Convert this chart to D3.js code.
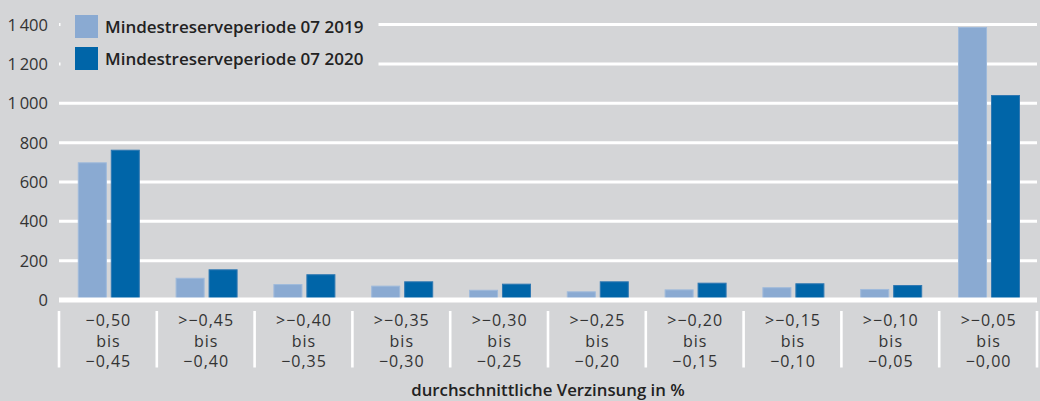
<!DOCTYPE html>
<html>
<head>
<meta charset="utf-8">
<script src="https://cdn.jsdelivr.net/npm/d3@7"></script>
<style>
  html, body { margin: 0; padding: 0; background: #d4d5d7; }
  svg { display: block; }
  text { font-family: "Open Sans", "Noto Sans", sans-serif; }
</style>
</head>
<body>
<svg id="chart" width="1040" height="401"></svg>
<script>
const categories = [
  ["\u22120,50", "bis", "\u22120,45"],
  [">\u22120,45", "bis", "\u22120,40"],
  [">\u22120,40", "bis", "\u22120,35"],
  [">\u22120,35", "bis", "\u22120,30"],
  [">\u22120,30", "bis", "\u22120,25"],
  [">\u22120,25", "bis", "\u22120,20"],
  [">\u22120,20", "bis", "\u22120,15"],
  [">\u22120,15", "bis", "\u22120,10"],
  [">\u22120,10", "bis", "\u22120,05"],
  [">\u22120,05", "bis", "\u22120,00"]
];
const seriesNames = ["Mindestreserveperiode 07 2019", "Mindestreserveperiode 07 2020"];
const values2019 = [700, 113, 81, 73, 52, 44, 54, 65, 56, 1388];
const values2020 = [764, 156, 131, 95, 83, 95, 88, 85, 76, 1042];
const yTicks = [0, 200, 400, 600, 800, 1000, 1200, 1400];
const yTickLabels = ["0", "200", "400", "600", "800", "1\u2009000", "1\u2009200", "1\u2009400"];
const axisTitle = "durchschnittliche Verzinsung in %";
const colors = ["#8aaad2", "#0065a8"];
const strokes = ["#9fbadb", "#2f78b2"];

const svg = d3.select("#chart");
const bg = "#d4d5d7";
svg.append("rect").attr("width", 1040).attr("height", 401).attr("fill", bg);

const x0 = d3.scaleBand().domain(d3.range(categories.length)).range([59, 1037]).padding(0);
const x1 = d3.scaleBand().domain([0, 1]).range([18.8, 80.8]).paddingInner(0.12);
const y = d3.scaleLinear().domain([0, 1400]).range([300, 24.6]);

// gridlines
svg.append("g").selectAll("line").data(yTicks.filter(d => d > 0)).join("line")
  .attr("x1", 59).attr("x2", 1037)
  .attr("y1", d => y(d)).attr("y2", d => y(d))
  .attr("stroke", "#fff").attr("stroke-width", 3);

// y tick labels
svg.append("g").selectAll("text").data(yTicks).join("text")
  .attr("x", 48).attr("y", d => y(d)).attr("dy", "0.36em")
  .attr("text-anchor", "end").attr("font-size", 16.5).attr("fill", "#333")
  .text((d, i) => yTickLabels[i]);

// bars
const series = [values2019, values2020];
series.forEach((vals, s) => {
  svg.append("g").selectAll("rect").data(vals).join("rect")
    .attr("x", (d, i) => x0(i) + x1(s) + 0.5)
    .attr("width", x1.bandwidth() - 1)
    .attr("y", d => y(d) + 0.5)
    .attr("height", d => y(0) - y(d))
    .attr("fill", colors[s])
    .attr("stroke", strokes[s]).attr("stroke-width", 1);
});

// zero line
svg.append("line").attr("x1", 59).attr("x2", 1037)
  .attr("y1", y(0)).attr("y2", y(0))
  .attr("stroke", "#fff").attr("stroke-width", 5);

// category separators
svg.append("g").selectAll("line").data(d3.range(categories.length + 1)).join("line")
  .attr("x1", i => 59 + i * x0.step()).attr("x2", i => 59 + i * x0.step())
  .attr("y1", 311).attr("y2", 367.5)
  .attr("stroke", "#fff").attr("stroke-width", 2.6);

// category labels (one text per line)
const lineY = [326.3, 346.8, 367.3];
categories.forEach((lines, i) => {
  lines.forEach((s, j) => {
    svg.append("text")
      .attr("x", x0(i) + x0.bandwidth() / 2 + 0.5).attr("y", lineY[j])
      .attr("text-anchor", "middle")
      .attr("font-size", 16).attr("letter-spacing", 1).attr("fill", "#333")
      .text(s);
  });
});

// axis title
svg.append("text").attr("x", 548).attr("y", 396)
  .attr("text-anchor", "middle").attr("font-size", 16.8).attr("font-weight", 600)
  .attr("fill", "#222").text(axisTitle);

// legend
svg.append("rect").attr("x", 60.5).attr("y", 8).attr("width", 318).attr("height", 66).attr("fill", bg);
const lg = svg.append("g").selectAll("g").data(seriesNames).join("g")
  .attr("transform", (d, i) => `translate(75,${15 + i * 32})`);
lg.append("rect").attr("width", 23).attr("height", 23).attr("fill", (d, i) => colors[i]);
lg.append("text").attr("x", 30).attr("y", 17.5)
  .attr("font-size", 17).attr("font-weight", 600).attr("fill", "#222")
  .text(d => d);
</script>
</body>
</html>
